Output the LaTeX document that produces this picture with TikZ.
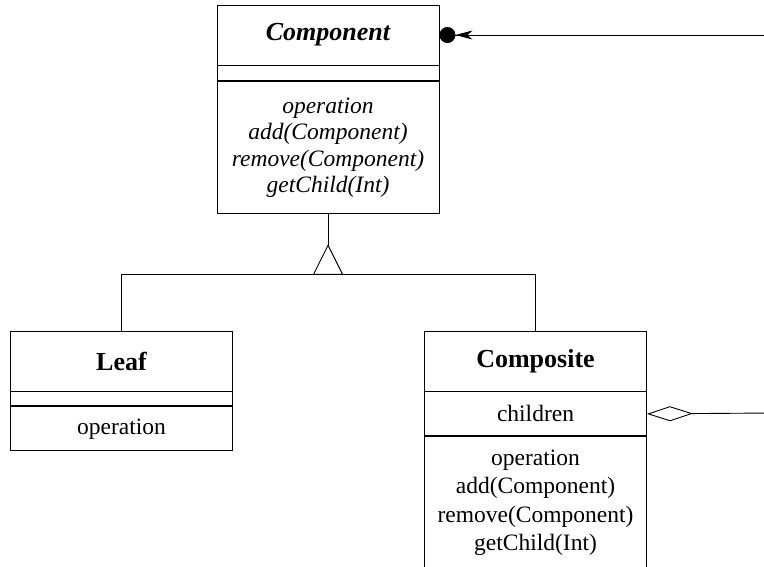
\documentclass[tikz,border=0pt]{standalone}
\usepackage{fontspec}
\setmainfont{Liberation Serif}
\usetikzlibrary{arrows.meta, positioning, calc}

\begin{document}
\begin{tikzpicture}[
    x=1pt, y=1pt,
    classname/.style={rectangle, draw=black, line width=0.9pt, inner sep=0pt, minimum width=222pt, minimum height=60pt, font=\fontsize{26}{30}\selectfont\bfseries},
    classpart/.style={rectangle, draw=black, line width=0.9pt, inner sep=0pt, minimum width=222pt, align=center, font=\fontsize{23.5}{28.3}\selectfont},
    link/.style={draw=black, line width=0.9pt}
]

\useasboundingbox (0,0) rectangle (764,-566);
\clip (0,0) rectangle (764,-566);

% COMPONENT (TOP)
\node[classname, font=\fontsize{26}{30}\selectfont\bfseries\itshape] (comp) at (328,-35) {Component};
\node[classpart, minimum height=15pt, below=0pt of comp] (comp_attr) {};
\node[classpart, minimum height=132pt, below=0pt of comp_attr, font=\fontsize{23.5}{26.5}\selectfont\itshape] (comp_ops) {
    operation\\
    add(Component)\\
    remove(Component)\\
    getChild(Int)
};

% LEAF (LEFT)
\node[classname] (leaf) at (121.5,-361) {Leaf};
\node[classpart, minimum height=14pt, below=0pt of leaf] (leaf_attr) {};
\node[classpart, minimum height=44pt, below=0pt of leaf_attr] (leaf_ops) {operation};

% COMPOSITE (RIGHT)
\node[classname] (composite) at (535.5,-361) {Composite};
\node[classpart, minimum height=44pt, below=0pt of composite] (composite_attr) {children};
\node[classpart, minimum height=132pt, below=0pt of composite_attr] (composite_ops) {
    operation\\
    add(Component)\\
    remove(Component)\\
    getChild(Int)
};

% INHERITANCE
\draw[link] (comp_ops.south) -- ++(0,-31) coordinate (apex);
\draw[link] (apex) -- ++(-14.5,-29) -- ++(29,0) -- cycle;
\coordinate (base) at ($(apex)+(0,-29)$);
\draw[link] (leaf.north) |- (base) -| (composite.north);

% CHILD LINKS (free ends leave the picture)
\coordinate (selfref) at (770,-35);
\coordinate (childref) at (770,-413);
\draw[link, {Circle[length=16pt] Stealth[length=17pt, width=9pt, inset=5pt]}-] (comp.east) -- (selfref);
\draw[link, {Diamond[open, length=46pt, width=15pt]}-] (composite_attr.east) -- (childref);

\end{tikzpicture}
\end{document}
